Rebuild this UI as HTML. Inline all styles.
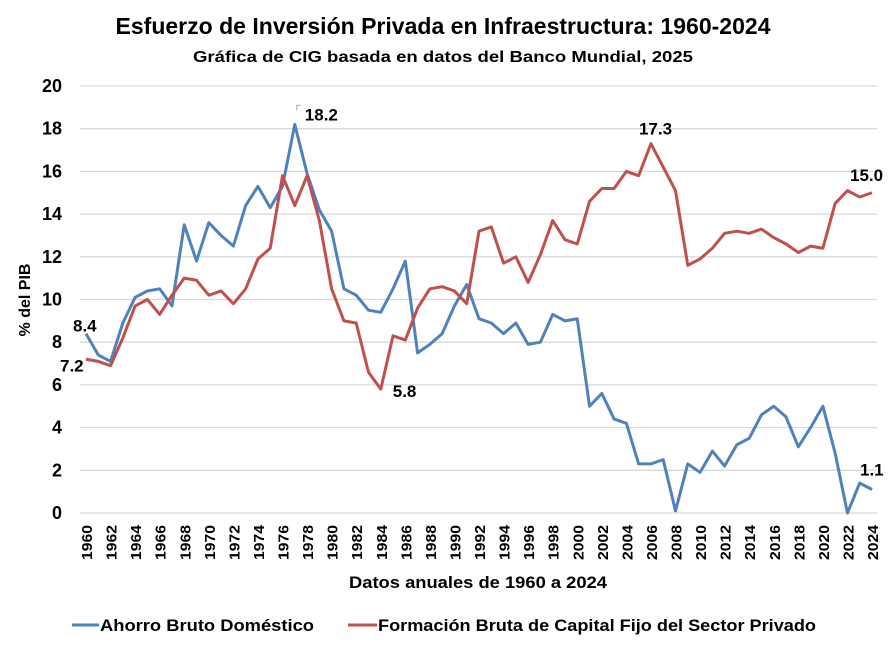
<!DOCTYPE html>
<html><head><meta charset="utf-8"><style>
body{margin:0;background:#fff;}
svg text{font-family:"Liberation Sans",sans-serif;font-weight:bold;fill:#000;}
</style></head><body>
<svg id="chart" width="890" height="642" viewBox="0 0 890 642">
<text x="443" y="34" text-anchor="middle" font-size="23" textLength="655" lengthAdjust="spacingAndGlyphs">Esfuerzo de Inversión Privada en Infraestructura: 1960-2024</text>
<text x="443" y="62" text-anchor="middle" font-size="16" textLength="500" lengthAdjust="spacingAndGlyphs">Gráfica de CIG basada en datos del Banco Mundial, 2025</text>
<g id="grid"></g><g id="ylabels"></g><g id="xlabels"></g><g id="lines"></g><g id="annot"></g>
<text transform="translate(30,300) rotate(-90)" text-anchor="middle" font-size="16">% del PIB</text>
<text x="478" y="588" text-anchor="middle" font-size="17" textLength="258" lengthAdjust="spacingAndGlyphs">Datos anuales de 1960 a 2024</text>
<g><line x1="72" y1="625" x2="99" y2="625" stroke="#4f81bd" stroke-width="3"/><text x="100" y="631" font-size="17" textLength="214" lengthAdjust="spacingAndGlyphs">Ahorro Bruto Doméstico</text></g>
<g><line x1="348" y1="625" x2="377" y2="625" stroke="#c0504d" stroke-width="3"/><text x="378" y="631" font-size="17" textLength="438" lengthAdjust="spacingAndGlyphs">Formación Bruta de Capital Fijo del Sector Privado</text></g>
</svg>
<script>
const years = [];
for (let y = 1960; y <= 2024; y++) years.push(y);
const ahorro = [8.4,7.4,7.1,8.9,10.1,10.4,10.5,9.7,13.5,11.8,13.6,13.0,12.5,14.4,15.3,14.3,15.3,18.2,15.9,14.2,13.2,10.5,10.2,9.5,9.4,10.5,11.8,7.5,7.9,8.4,9.7,10.7,9.1,8.9,8.4,8.9,7.9,8.0,9.3,9.0,9.1,5.0,5.6,4.4,4.2,2.3,2.3,2.5,0.1,2.3,1.9,2.9,2.2,3.2,3.5,4.6,5.0,4.5,3.1,4.0,5.0,2.8,0.0,1.4,1.1];
const formacion = [7.2,7.1,6.9,8.2,9.7,10.0,9.3,10.2,11.0,10.9,10.2,10.4,9.8,10.5,11.9,12.4,15.8,14.4,15.8,13.7,10.5,9.0,8.9,6.6,5.8,8.3,8.1,9.6,10.5,10.6,10.4,9.8,13.2,13.4,11.7,12.0,10.8,12.1,13.7,12.8,12.6,14.6,15.2,15.2,16.0,15.8,17.3,16.2,15.1,11.6,11.9,12.4,13.1,13.2,13.1,13.3,12.9,12.6,12.2,12.5,12.4,14.5,15.1,14.8,15.0];
const yTicks = [0,2,4,6,8,10,12,14,16,18,20];
const NS = 'http://www.w3.org/2000/svg';
const X0=86, X1=872, Y0=513, Y1=86;
function xs(yr){return X0+(yr-1960)*(X1-X0)/64;}
function ys(v){return Y0-(v/20)*(Y0-Y1);}
function mk(tag, attrs, parent){const e=document.createElementNS(NS,tag);for(const k in attrs)e.setAttribute(k,attrs[k]);parent.appendChild(e);return e;}
const grid=document.getElementById('grid'), yl=document.getElementById('ylabels'), xl=document.getElementById('xlabels'), ln=document.getElementById('lines'), an=document.getElementById('annot');
yTicks.forEach(t=>{
  const g=mk('line',{x1:80,x2:877,y1:ys(t),y2:ys(t),stroke:'#d9d9d9','stroke-width':1.3},grid);
  
  
  const tx=mk('text',{x:62,y:ys(t)+6,'text-anchor':'end','font-size':18},yl);
  tx.textContent=t;
  
  
});
years.filter(y=>y%2===0).forEach(y=>{
  const tx=mk('text',{transform:`translate(${xs(y)+6},560) rotate(-90)`,'font-size':15,textLength:35,lengthAdjust:'spacingAndGlyphs'},xl);
  tx.textContent=y;
  
  
});
function series(vals,color,name){
  const p=mk('polyline',{points:vals.map((v,i)=>xs(years[i])+','+ys(v)).join(' '),fill:'none',stroke:color,'stroke-width':3,'stroke-linejoin':'round'},ln);
  
  
}
series(ahorro,'#4f81bd','ahorro-line');
series(formacion,'#c0504d','formacion-line');
function lab(txt,yr,v,dx,dy,name){
  const t=mk('text',{x:xs(yr)+dx,y:ys(v)+dy,'font-size':17},an);
  t.textContent=txt;
  
  
}
const leader=mk('polyline',{points:`${xs(1977)+2},${ys(ahorro[17])-14} ${xs(1977)+2},${ys(ahorro[17])-19} ${xs(1977)+6},${ys(ahorro[17])-19}`,fill:'none',stroke:'#a6a6a6','stroke-width':1},an);


lab('8.4',1960,ahorro[0],-13,-2,'label-ahorro-1960');
lab('7.2',1960,formacion[0],-26,12,'label-formacion-1960');
lab('18.2',1977,ahorro[17],10,-4,'label-ahorro-peak');
lab('5.8',1984,formacion[24],12,8,'label-formacion-min');
lab('17.3',2006,formacion[46],-12,-9,'label-formacion-peak');
lab('15.0',2024,formacion[64],-22,-12,'label-formacion-2024');
lab('1.1',2024,ahorro[64],-12,-14,'label-ahorro-2024');
</script>
</body></html>
